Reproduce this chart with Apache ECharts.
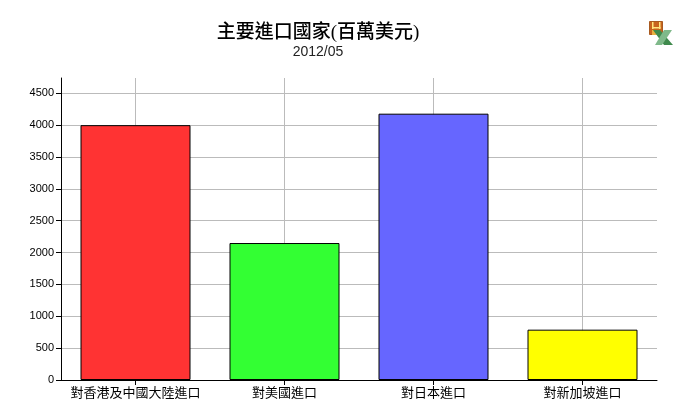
<!DOCTYPE html>
<html><head><meta charset="utf-8">
<style>html,body{margin:0;padding:0;background:#fff}#c{width:687px;height:417px}</style>
<script src="https://cdn.jsdelivr.net/npm/echarts@6/dist/echarts.min.js"></script>
</head><body><div id="c"></div>
<script>
const titleText = '主要進口國家(百萬美元)';
const subtitleText = '2012/05';
const categories = ['對香港及中國大陸進口','對美國進口','對日本進口','對新加坡進口'];
const values = [4000, 2150, 4180, 790];
const colors = ['#ff3333','#33ff33','#6666ff','#ffff00'];
const chart = echarts.init(document.getElementById('c'), null, {renderer:'canvas'});
chart.setOption({
  animation:false,
  backgroundColor:'#fff',
  title:{
    text:titleText, subtext:subtitleText, left:313, top:19, textAlign:'center', itemGap:2,
    textStyle:{fontFamily:'"Liberation Serif","Noto Sans CJK TC"',fontSize:19,fontWeight:500,color:'#000'},
    subtextStyle:{fontFamily:'"Liberation Sans"',fontSize:14,color:'#222'}
  },
  grid:{left:61,right:30,top:78,bottom:37,containLabel:false},
  xAxis:{
    type:'category',data:categories,boundaryGap:true,
    axisLine:{lineStyle:{color:'#000',width:1}},
    axisTick:{show:true,alignWithLabel:true,length:5,lineStyle:{color:'#000'}},
    axisLabel:{fontFamily:'"Noto Sans CJK TC"',fontSize:13,color:'#000',margin:6,interval:0},
    splitLine:{show:true,alignWithLabel:true,lineStyle:{color:'#bbbbbb',width:1}}
  },
  yAxis:{
    type:'value',min:0,max:4740,interval:500,
    axisLine:{show:true,lineStyle:{color:'#000',width:1}},
    axisTick:{show:true,length:5,lineStyle:{color:'#000'}},
    axisLabel:{fontFamily:'"Liberation Sans"',fontSize:11,color:'#000',margin:7,showMaxLabel:false,
      formatter:(v)=>String(v)},
    splitLine:{show:true,showMaxLine:false,lineStyle:{color:'#bbbbbb',width:1}}
  },
  series:[{
    type:'bar',barWidth:110,
    data:values.map((v,i)=>({value:v,itemStyle:{color:colors[i]}})),
    itemStyle:{borderColor:'#000',borderWidth:1}
  }],
  graphic:[
    {type:'group',left:649,top:21,children:[
      {type:'rect',shape:{x:0.5,y:0.5,width:13,height:13},style:{fill:'#c8641e',stroke:'#a85a20',lineWidth:1}},
      {type:'rect',shape:{x:3,y:1,width:1.5,height:7},style:{fill:'#ffe680'}},
      {type:'rect',shape:{x:10,y:1,width:1.5,height:7},style:{fill:'#ffe680'}},
      {type:'rect',shape:{x:3,y:6,width:8.5,height:1.5},style:{fill:'#ffe680'}},
      {type:'rect',shape:{x:3,y:9,width:8,height:5},style:{fill:'#e8b040'}},
      {type:'polygon',shape:{points:[[4,9],[11,9],[24,24],[15,24]]},style:{fill:'#3f8a4d'}},
      {type:'polygon',shape:{points:[[15,9],[23,9],[13,24],[6,24]]},style:{fill:'#7fb98a'}}
    ]}
  ]
});
</script></body></html>
